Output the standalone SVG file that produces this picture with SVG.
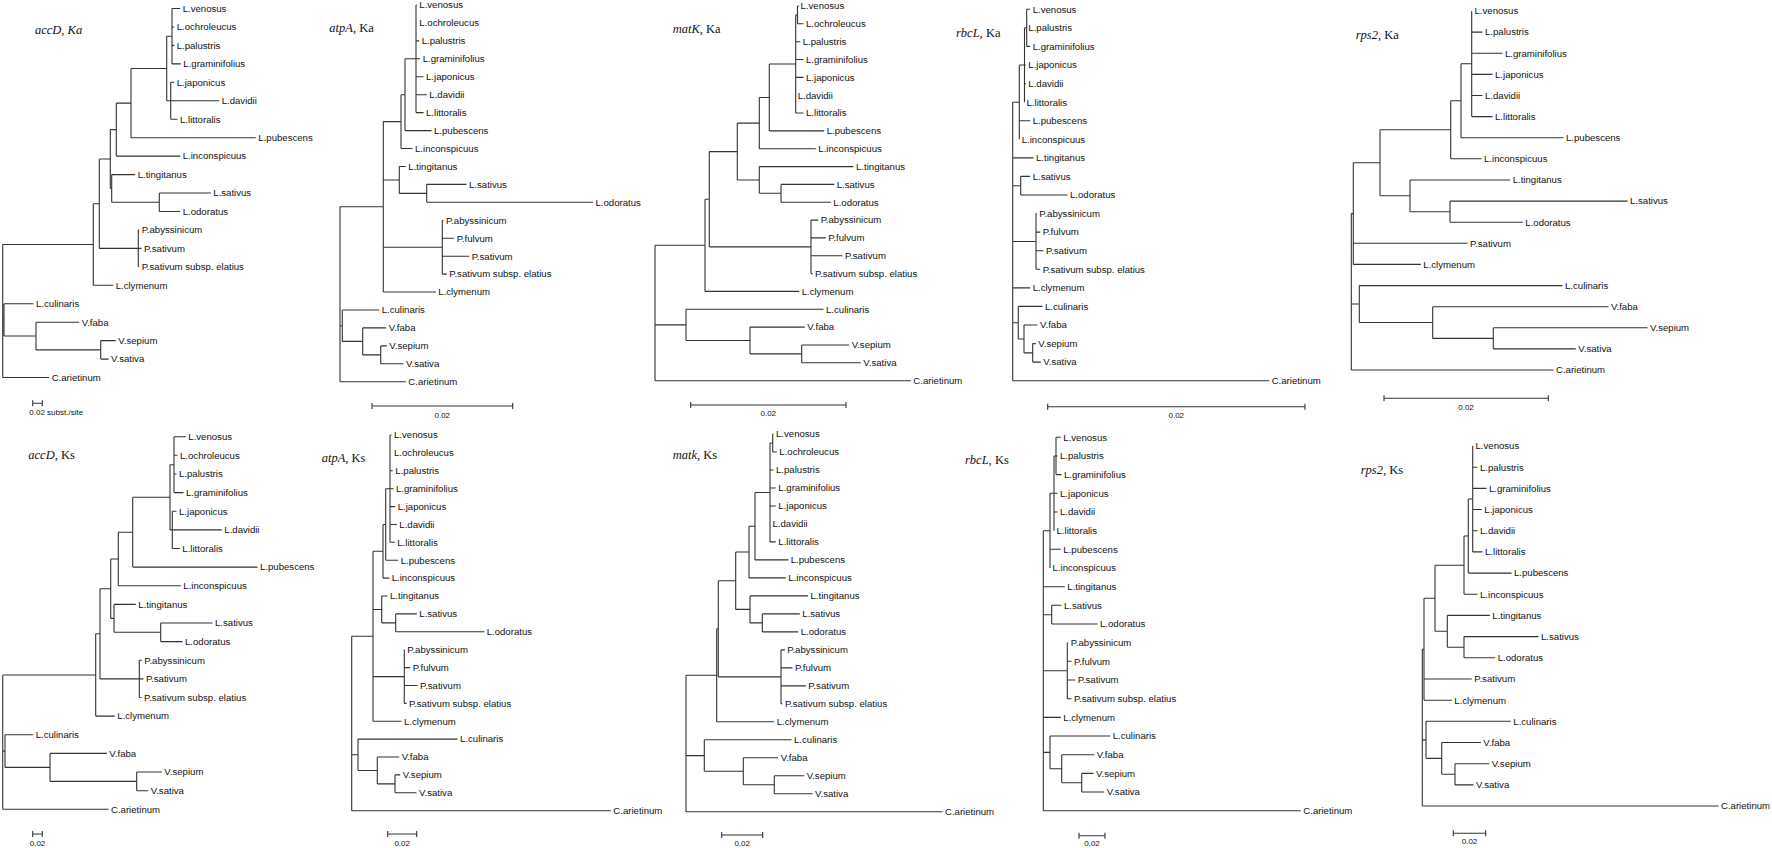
<svg xmlns="http://www.w3.org/2000/svg" width="1772" height="848" viewBox="0 0 1772 848">
<style>
.br{fill:none;stroke:#333;stroke-width:1.1}
.lb{font-family:"Liberation Sans",Arial,sans-serif;font-size:9.6px;fill:#111}
.sc{font-family:"Liberation Sans",Arial,sans-serif;font-size:8px;fill:#111}
.tt{font-family:"Liberation Serif","Times New Roman",serif;font-size:12.5px;fill:#111}
.it{font-style:italic}
</style>
<rect width="1772" height="848" fill="#fff"/>
<g id="connectors">
<path id="br-accD-Ka" class="br" d="M172 8.5V63.9M172 8.5H180.2M172 27H174.2M172 45.4H174.2M172 63.9H180.8M170.7 82.3V119.2M170.7 82.3H174.2M170.7 100.8H219.2M170.7 119.2H177.5M166.7 36.2V100.8M166.7 36.2H172M166.7 100.8H170.7M131 68.5V137.7M131 68.5H166.7M131 137.7H255.8M116.3 103.1V156.1M116.3 103.1H131M116.3 156.1H180.2M159.3 193V211.5M159.3 193H210.8M159.3 211.5H180.2M111.7 174.6V202.3M111.7 174.6H135.2M111.7 202.3H159.3M110.3 129.6V188.5M110.3 129.6H116.3M110.3 188.5H111.7M138.3 229.9V266.8M138.3 229.9H139.2M138.3 248.4H141.5M138.3 266.8H139.2M99.3 159V248.4M99.3 159H110.3M99.3 248.4H138.3M93.3 203.7V285.3M93.3 203.7H99.3M93.3 285.3H113.2M100.7 340.6V359.1M100.7 340.6H115.8M100.7 359.1H108.5M36 322.2V349.9M36 322.2H79.2M36 349.9H100.7M4 303.7V336M4 303.7H33.5M4 336H36M2.7 244.5V377.5M2.7 244.5H93.3M2.7 319.9H4M2.7 377.5H49.2"/>
<path id="br-accD-Ks" class="br" d="M174 436.7V492.6M174 436.7H185.8M174 455.3H177.5M174 474H176.5M174 492.6H183.5M172.3 511.2V548.5M172.3 511.2H176.5M172.3 529.9H221.8M172.3 548.5H179.8M170 464.7V529.9M170 464.7H174M170 529.9H172.3M132.7 497.3V567.1M132.7 497.3H170M132.7 567.1H257.5M118.3 532.2V585.7M118.3 532.2H132.7M118.3 585.7H180.8M160.7 623V641.6M160.7 623H212.5M160.7 641.6H182.5M114 604.4V632.3M114 604.4H135.8M114 632.3H160.7M110.7 559V618.4M110.7 559H118.3M110.7 618.4H114M139.3 660.3V697.5M139.3 660.3H141.8M139.3 678.9H143.5M139.3 697.5H141.5M100 588.7V678.9M100 588.7H110.7M100 678.9H139.3M95.7 633.8V716.1M95.7 633.8H100M95.7 716.1H114.8M136.7 772V790.7M136.7 772H161.8M136.7 790.7H148.2M50 753.4V781.4M50 753.4H106.8M50 781.4H136.7M5 734.8V767.4M5 734.8H33.2M5 767.4H50M2.7 675V809.3M2.7 675H95.7M2.7 751.1H5M2.7 809.3H108.5"/>
<path id="br-atpA-Ka" class="br" d="M416 5V112.6M416 5H416.8M416 40.9H419.2M416 58.8H420.2M416 76.8H423.5M416 94.7H426.8M416 112.6H423.5M405 58.8V130.6M405 58.8H416M405 130.6H431.5M401 94.7V148.5M401 94.7H405M401 148.5H412.5M426.7 184.4V202.3M426.7 184.4H466.5M426.7 202.3H593M399.3 166.5V193.4M399.3 166.5H405.8M399.3 193.4H426.7M442.3 220.3V274.1M442.3 220.3H443.5M442.3 238.2H454.2M442.3 256.2H469.2M442.3 274.1H446.8M383.3 121.6V292M383.3 121.6H401M383.3 180H399.3M383.3 247.2H442.3M383.3 292H435.8M380.7 345.9V363.8M380.7 345.9H386.8M380.7 363.8H403.5M362.7 327.9V354.9M362.7 327.9H386.2M362.7 354.9H380.7M342.3 310V341.4M342.3 310H379.2M342.3 341.4H362.7M340 206.8V381.7M340 206.8H383.3M340 325.7H342.3M340 381.7H405.8"/>
<path id="br-atpA-Ks" class="br" d="M390 435V542.3M390 435H391.5M390 470.8H392.8M390 488.7H393.5M390 506.6H395.2M390 524.5H396.8M390 542.3H394.8M385.7 488.7V560.2M385.7 488.7H390M385.7 560.2H398.2M383 524.5V578.1M383 524.5H385.7M383 578.1H389.2M395.7 613.9V631.8M395.7 613.9H416.8M395.7 631.8H484.2M381.7 596V622.9M381.7 596H387.5M381.7 622.9H395.7M404.3 649.7V703.4M404.3 649.7H404.8M404.3 667.6H410.2M404.3 685.5H417.5M404.3 703.4H406.5M373 551.3V721.2M373 551.3H383M373 609.5H381.7M373 676.6H404.3M373 721.2H401.5M395 774.9V792.8M395 774.9H400.2M395 792.8H416.5M377.3 757V783.9M377.3 757H399.2M377.3 783.9H395M358 739.1V770.5M358 739.1H457.5M358 770.5H377.3M351.7 636.3V810.7M351.7 636.3H373M351.7 754.8H358M351.7 810.7H610.8"/>
<path id="br-matK-Ka" class="br" d="M797.5 6V23.8M797.5 6H799M797.5 23.8H803.5M795.7 14.9V113M795.7 14.9H797.5M795.7 41.7H800.2M795.7 59.5H803.5M795.7 77.4H803.5M795.7 113H803.5M769.3 64V130.9M769.3 64H795.7M769.3 130.9H824.2M759.3 97.5V148.7M759.3 97.5H769.3M759.3 148.7H815.8M781 184.4V202.2M781 184.4H834.2M781 202.2H830.8M759.3 166.6V193.3M759.3 166.6H853.5M759.3 193.3H781M737.3 123.1V180M737.3 123.1H759.3M737.3 180H759.3M811 220.1V273.6M811 220.1H818.2M811 237.9H825.8M811 255.8H842.5M811 273.6H812.5M709.3 151.6V246.9M709.3 151.6H737.3M709.3 246.9H811M705 199.2V291.4M705 199.2H709.3M705 291.4H799.2M801.7 345V362.8M801.7 345H849.2M801.7 362.8H860.8M750 327.1V353.9M750 327.1H804.8M750 353.9H801.7M686 309.3V340.5M686 309.3H823.5M686 340.5H750M655 245.3V380.7M655 245.3H705M655 324.9H686M655 380.7H910.8"/>
<path id="br-matK-Ks" class="br" d="M772.7 434V452M772.7 434H773.5M772.7 452H776.8M770 443V541.9M770 443H772.7M770 470H773.5M770 488H775.8M770 506H775.8M770 541.9H775.8M755 492.5V559.9M755 492.5H770M755 559.9H788.2M749 526.2V577.9M749 526.2H755M749 577.9H785.8M762.3 613.9V631.9M762.3 613.9H799.8M762.3 631.9H798.2M750 595.9V622.9M750 595.9H808M750 622.9H762.3M735.7 552V609.4M735.7 552H749M735.7 609.4H750M781 649.9V703.8M781 649.9H784.8M781 667.9H792.5M781 685.9H805.8M781 703.8H782.5M718.3 580.7V676.9M718.3 580.7H735.7M718.3 676.9H781M716.7 628.8V721.8M716.7 628.8H718.3M716.7 721.8H774.2M774.3 775.8V793.8M774.3 775.8H804.2M774.3 793.8H812.5M743.3 757.8V784.8M743.3 757.8H778.2M743.3 784.8H774.3M704.3 739.8V771.3M704.3 739.8H791.5M704.3 771.3H743.3M686 675.3V811.7M686 675.3H716.7M686 755.6H704.3M686 811.7H942.5"/>
<path id="br-rbcL-Ka" class="br" d="M1026.7 9.3V46.4M1026.7 9.3H1030.2M1026.7 46.4H1030.2M1024.5 27.9V102.2M1024.5 27.9H1026.7M1024.5 65H1025.8M1024.5 83.6H1025.8M1019.3 65V139.3M1019.3 65H1024.5M1019.3 120.7H1030.2M1020.7 176.4V195M1020.7 176.4H1030.2M1020.7 195H1067.5M1036 213.6V269.3M1036 213.6H1036.8M1036 232.1H1040.2M1036 250.7H1043.5M1036 269.3H1040.2M1032.7 343.6V362.1M1032.7 343.6H1035.8M1032.7 362.1H1040.8M1024 325V352.9M1024 325H1037.5M1024 352.9H1032.7M1018.3 306.4V339M1018.3 306.4H1042.5M1018.3 339H1024M1012.7 102.2V380.7M1012.7 102.2H1019.3M1012.7 157.9H1033.5M1012.7 185.7H1020.7M1012.7 241.5H1036M1012.7 287.9H1030.2M1012.7 322.7H1018.3M1012.7 380.7H1269.2"/>
<path id="br-rbcL-Ks" class="br" d="M1056 437.3V474.6M1056 437.3H1060.8M1056 456H1057.5M1056 474.6H1061.5M1054 456V530.7M1054 456H1056M1054 493.3H1057.5M1054 512H1057.5M1050 493.3V568M1050 493.3H1054M1050 549.3H1060.8M1051.7 605.3V624M1051.7 605.3H1061.5M1051.7 624H1097.5M1067.3 642.7V698.7M1067.3 642.7H1068.2M1067.3 661.3H1071.5M1067.3 680H1075.2M1067.3 698.7H1071.5M1081.7 773.4V792M1081.7 773.4H1093.5M1081.7 792H1104.2M1061.7 754.7V782.7M1061.7 754.7H1094.2M1061.7 782.7H1081.7M1050 736V768.7M1050 736H1110.2M1050 768.7H1061.7M1043.3 530.7V810.7M1043.3 530.7H1050M1043.3 586.7H1064.8M1043.3 614.7H1051.7M1043.3 670.7H1067.3M1043.3 717.4H1060.8M1043.3 752.4H1050M1043.3 810.7H1300.8"/>
<path id="br-rps2-Ka" class="br" d="M1471.7 11V116.6M1471.7 32.1H1482.5M1471.7 53.2H1502.5M1471.7 74.4H1492.5M1471.7 95.5H1482.5M1471.7 116.6H1492.5M1461 63.8V137.7M1461 63.8H1471.7M1461 137.7H1563.5M1450.7 100.8V158.8M1450.7 100.8H1461M1450.7 158.8H1481.5M1450 201.1V222.2M1450 201.1H1627.5M1450 222.2H1522.8M1410 180V211.7M1410 180H1510.2M1410 211.7H1450M1380 129.8V195.8M1380 129.8H1450.7M1380 195.8H1410M1353.3 162.8V264.4M1353.3 162.8H1380M1353.3 243.3H1467.5M1353.3 264.4H1420.8M1493.3 327.8V348.9M1493.3 327.8H1647.5M1493.3 348.9H1575.8M1432.7 306.7V338.4M1432.7 306.7H1608.5M1432.7 338.4H1493.3M1359.3 285.6V322.5M1359.3 285.6H1562.5M1359.3 322.5H1432.7M1351.3 213.6V370M1351.3 213.6H1353.3M1351.3 304H1359.3M1351.3 370H1553.5"/>
<path id="br-rps2-Ks" class="br" d="M1472.7 446V551.9M1472.7 467.2H1477.5M1472.7 488.4H1486.5M1472.7 509.5H1481.8M1472.7 530.7H1477.5M1472.7 551.9H1482.5M1468.3 499V573.1M1468.3 499H1472.7M1468.3 573.1H1511.5M1464 536V594.3M1464 536H1468.3M1464 594.3H1477.5M1464 636.6V657.8M1464 636.6H1538.5M1464 657.8H1495.2M1447.3 615.4V647.2M1447.3 615.4H1489.8M1447.3 647.2H1464M1435 565.2V631.3M1435 565.2H1464M1435 631.3H1447.3M1424 598.3V700.2M1424 598.3H1435M1424 679H1471.8M1424 700.2H1451.8M1455 763.7V784.9M1455 763.7H1489.2M1455 784.9H1473.5M1441.7 742.5V774.3M1441.7 742.5H1480.8M1441.7 774.3H1455M1426 721.3V758.4M1426 721.3H1510.8M1426 758.4H1441.7M1422.3 649.3V806M1422.3 649.3H1424M1422.3 739.9H1426M1422.3 806H1718.5"/>
<path id="scale-bars" class="br" d="M32.7 403.3H42.3M32.7 400.3V406.3M42.3 400.3V406.3M372 406H512.7M372 403V409M512.7 403V409M690.7 405H846M690.7 402V408M846 402V408M1047.7 406.7H1305M1047.7 403.7V409.7M1305 403.7V409.7M1384 398.3H1548.3M1384 395.3V401.3M1548.3 395.3V401.3M32.7 834H42.3M32.7 831V837M42.3 831V837M387.7 834H416.7M387.7 831V837M416.7 831V837M721.7 835H762.7M721.7 832V838M762.7 832V838M1079 835.7H1105M1079 832.7V838.7M1105 832.7V838.7M1453.3 833.3H1485.7M1453.3 830.3V836.3M1485.7 830.3V836.3"/>
</g>
<g id="scale-labels" class="sc">
<text x="29.3" y="415">0.02 subst./site</text>
<text x="442.3" y="418" text-anchor="middle">0.02</text>
<text x="768.3" y="416" text-anchor="middle">0.02</text>
<text x="1176.3" y="418" text-anchor="middle">0.02</text>
<text x="1466" y="409.5" text-anchor="middle">0.02</text>
<text x="37.5" y="846" text-anchor="middle">0.02</text>
<text x="402.2" y="846" text-anchor="middle">0.02</text>
<text x="742.2" y="846" text-anchor="middle">0.02</text>
<text x="1092" y="846" text-anchor="middle">0.02</text>
<text x="1469.5" y="844" text-anchor="middle">0.02</text>
</g>
<g id="tree-accD-Ka">
<text class="tt it" x="35" y="34">accD, Ka</text>
<g class="lb" transform="translate(0 3.4)">
<text x="182.7" y="8.5">L.venosus</text>
<text x="176.7" y="27">L.ochroleucus</text>
<text x="176.7" y="45.4">L.palustris</text>
<text x="183.3" y="63.9">L.graminifolius</text>
<text x="176.7" y="82.3">L.japonicus</text>
<text x="221.7" y="100.8">L.davidii</text>
<text x="180" y="119.2">L.littoralis</text>
<text x="258.3" y="137.7">L.pubescens</text>
<text x="182.7" y="156.1">L.inconspicuus</text>
<text x="137.7" y="174.6">L.tingitanus</text>
<text x="213.3" y="193">L.sativus</text>
<text x="182.7" y="211.5">L.odoratus</text>
<text x="141.7" y="229.9">P.abyssinicum</text>
<text x="144" y="248.4">P.sativum</text>
<text x="141.7" y="266.8">P.sativum subsp. elatius</text>
<text x="115.7" y="285.3">L.clymenum</text>
<text x="36" y="303.7">L.culinaris</text>
<text x="81.7" y="322.2">V.faba</text>
<text x="118.3" y="340.6">V.sepium</text>
<text x="111" y="359.1">V.sativa</text>
<text x="51.7" y="377.5">C.arietinum</text>
</g>
</g>
<g id="tree-accD-Ks">
<text class="tt" x="28.3" y="459"><tspan class="it">accD,</tspan> Ks</text>
<g class="lb" transform="translate(0 3.4)">
<text x="188.3" y="436.7">L.venosus</text>
<text x="180" y="455.3">L.ochroleucus</text>
<text x="179" y="474">L.palustris</text>
<text x="186" y="492.6">L.graminifolius</text>
<text x="179" y="511.2">L.japonicus</text>
<text x="224.3" y="529.9">L.davidii</text>
<text x="182.3" y="548.5">L.littoralis</text>
<text x="260" y="567.1">L.pubescens</text>
<text x="183.3" y="585.7">L.inconspicuus</text>
<text x="138.3" y="604.4">L.tingitanus</text>
<text x="215" y="623">L.sativus</text>
<text x="185" y="641.6">L.odoratus</text>
<text x="144.3" y="660.3">P.abyssinicum</text>
<text x="146" y="678.9">P.sativum</text>
<text x="144" y="697.5">P.sativum subsp. elatius</text>
<text x="117.3" y="716.1">L.clymenum</text>
<text x="35.7" y="734.8">L.culinaris</text>
<text x="109.3" y="753.4">V.faba</text>
<text x="164.3" y="772">V.sepium</text>
<text x="150.7" y="790.7">V.sativa</text>
<text x="111" y="809.3">C.arietinum</text>
</g>
</g>
<g id="tree-atpA-Ka">
<text class="tt" x="329.3" y="32"><tspan class="it">atpA,</tspan> Ka</text>
<g class="lb" transform="translate(0 3.4)">
<text x="419.3" y="5">L.venosus</text>
<text x="419.3" y="22.9">L.ochroleucus</text>
<text x="421.7" y="40.9">L.palustris</text>
<text x="422.7" y="58.8">L.graminifolius</text>
<text x="426" y="76.8">L.japonicus</text>
<text x="429.3" y="94.7">L.davidii</text>
<text x="426" y="112.6">L.littoralis</text>
<text x="434" y="130.6">L.pubescens</text>
<text x="415" y="148.5">L.inconspicuus</text>
<text x="408.3" y="166.5">L.tingitanus</text>
<text x="469" y="184.4">L.sativus</text>
<text x="595.5" y="202.3">L.odoratus</text>
<text x="446" y="220.3">P.abyssinicum</text>
<text x="456.7" y="238.2">P.fulvum</text>
<text x="471.7" y="256.2">P.sativum</text>
<text x="449.3" y="274.1">P.sativum subsp. elatius</text>
<text x="438.3" y="292">L.clymenum</text>
<text x="381.7" y="310">L.culinaris</text>
<text x="388.7" y="327.9">V.faba</text>
<text x="389.3" y="345.9">V.sepium</text>
<text x="406" y="363.8">V.sativa</text>
<text x="408.3" y="381.7">C.arietinum</text>
</g>
</g>
<g id="tree-atpA-Ks">
<text class="tt" x="321.7" y="462"><tspan class="it">atpA,</tspan> Ks</text>
<g class="lb" transform="translate(0 3.4)">
<text x="394" y="435">L.venosus</text>
<text x="394" y="452.9">L.ochroleucus</text>
<text x="395.3" y="470.8">L.palustris</text>
<text x="396" y="488.7">L.graminifolius</text>
<text x="397.7" y="506.6">L.japonicus</text>
<text x="399.3" y="524.5">L.davidii</text>
<text x="397.3" y="542.3">L.littoralis</text>
<text x="400.7" y="560.2">L.pubescens</text>
<text x="391.7" y="578.1">L.inconspicuus</text>
<text x="390" y="596">L.tingitanus</text>
<text x="419.3" y="613.9">L.sativus</text>
<text x="486.7" y="631.8">L.odoratus</text>
<text x="407.3" y="649.7">P.abyssinicum</text>
<text x="412.7" y="667.6">P.fulvum</text>
<text x="420" y="685.5">P.sativum</text>
<text x="409" y="703.4">P.sativum subsp. elatius</text>
<text x="404" y="721.2">L.clymenum</text>
<text x="460" y="739.1">L.culinaris</text>
<text x="401.7" y="757">V.faba</text>
<text x="402.7" y="774.9">V.sepium</text>
<text x="419" y="792.8">V.sativa</text>
<text x="613.3" y="810.7">C.arietinum</text>
</g>
</g>
<g id="tree-matK-Ka">
<text class="tt" x="672.7" y="33"><tspan class="it">matK,</tspan> Ka</text>
<g class="lb" transform="translate(0 3.4)">
<text x="800.5" y="6">L.venosus</text>
<text x="806" y="23.8">L.ochroleucus</text>
<text x="802.7" y="41.7">L.palustris</text>
<text x="806" y="59.5">L.graminifolius</text>
<text x="806" y="77.4">L.japonicus</text>
<text x="797.7" y="95.2">L.davidii</text>
<text x="806" y="113">L.littoralis</text>
<text x="826.7" y="130.9">L.pubescens</text>
<text x="818.3" y="148.7">L.inconspicuus</text>
<text x="856" y="166.6">L.tingitanus</text>
<text x="836.7" y="184.4">L.sativus</text>
<text x="833.3" y="202.2">L.odoratus</text>
<text x="820.7" y="220.1">P.abyssinicum</text>
<text x="828.3" y="237.9">P.fulvum</text>
<text x="845" y="255.8">P.sativum</text>
<text x="815" y="273.6">P.sativum subsp. elatius</text>
<text x="801.7" y="291.4">L.clymenum</text>
<text x="826" y="309.3">L.culinaris</text>
<text x="807.3" y="327.1">V.faba</text>
<text x="851.7" y="345">V.sepium</text>
<text x="863.3" y="362.8">V.sativa</text>
<text x="913.3" y="380.7">C.arietinum</text>
</g>
</g>
<g id="tree-matK-Ks">
<text class="tt" x="672.7" y="459"><tspan class="it">matk,</tspan> Ks</text>
<g class="lb" transform="translate(0 3.4)">
<text x="776" y="434">L.venosus</text>
<text x="779.3" y="452">L.ochroleucus</text>
<text x="776" y="470">L.palustris</text>
<text x="778.3" y="488">L.graminifolius</text>
<text x="778.3" y="506">L.japonicus</text>
<text x="772.5" y="523.9">L.davidii</text>
<text x="778.3" y="541.9">L.littoralis</text>
<text x="790.7" y="559.9">L.pubescens</text>
<text x="788.3" y="577.9">L.inconspicuus</text>
<text x="810.5" y="595.9">L.tingitanus</text>
<text x="802.3" y="613.9">L.sativus</text>
<text x="800.7" y="631.9">L.odoratus</text>
<text x="787.3" y="649.9">P.abyssinicum</text>
<text x="795" y="667.9">P.fulvum</text>
<text x="808.3" y="685.9">P.sativum</text>
<text x="785" y="703.8">P.sativum subsp. elatius</text>
<text x="776.7" y="721.8">L.clymenum</text>
<text x="794" y="739.8">L.culinaris</text>
<text x="780.7" y="757.8">V.faba</text>
<text x="806.7" y="775.8">V.sepium</text>
<text x="815" y="793.8">V.sativa</text>
<text x="945" y="811.7">C.arietinum</text>
</g>
</g>
<g id="tree-rbcL-Ka">
<text class="tt" x="956" y="37"><tspan class="it">rbcL,</tspan> Ka</text>
<g class="lb" transform="translate(0 3.4)">
<text x="1032.7" y="9.3">L.venosus</text>
<text x="1028.3" y="27.9">L.palustris</text>
<text x="1032.7" y="46.4">L.graminifolius</text>
<text x="1028.3" y="65">L.japonicus</text>
<text x="1028.3" y="83.6">L.davidii</text>
<text x="1026.5" y="102.2">L.littoralis</text>
<text x="1032.7" y="120.7">L.pubescens</text>
<text x="1021.7" y="139.3">L.inconspicuus</text>
<text x="1036" y="157.9">L.tingitanus</text>
<text x="1032.7" y="176.4">L.sativus</text>
<text x="1070" y="195">L.odoratus</text>
<text x="1039.3" y="213.6">P.abyssinicum</text>
<text x="1042.7" y="232.1">P.fulvum</text>
<text x="1046" y="250.7">P.sativum</text>
<text x="1042.7" y="269.3">P.sativum subsp. elatius</text>
<text x="1032.7" y="287.9">L.clymenum</text>
<text x="1045" y="306.4">L.culinaris</text>
<text x="1040" y="325">V.faba</text>
<text x="1038.3" y="343.6">V.sepium</text>
<text x="1043.3" y="362.1">V.sativa</text>
<text x="1271.7" y="380.7">C.arietinum</text>
</g>
</g>
<g id="tree-rbcL-Ks">
<text class="tt" x="965" y="464"><tspan class="it">rbcL,</tspan> Ks</text>
<g class="lb" transform="translate(0 3.4)">
<text x="1063.3" y="437.3">L.venosus</text>
<text x="1060" y="456">L.palustris</text>
<text x="1064" y="474.6">L.graminifolius</text>
<text x="1060" y="493.3">L.japonicus</text>
<text x="1060" y="512">L.davidii</text>
<text x="1056.5" y="530.7">L.littoralis</text>
<text x="1063.3" y="549.3">L.pubescens</text>
<text x="1052.5" y="568">L.inconspicuus</text>
<text x="1067.3" y="586.7">L.tingitanus</text>
<text x="1064" y="605.3">L.sativus</text>
<text x="1100" y="624">L.odoratus</text>
<text x="1070.7" y="642.7">P.abyssinicum</text>
<text x="1074" y="661.3">P.fulvum</text>
<text x="1077.7" y="680">P.sativum</text>
<text x="1074" y="698.7">P.sativum subsp. elatius</text>
<text x="1063.3" y="717.4">L.clymenum</text>
<text x="1112.7" y="736">L.culinaris</text>
<text x="1096.7" y="754.7">V.faba</text>
<text x="1096" y="773.4">V.sepium</text>
<text x="1106.7" y="792">V.sativa</text>
<text x="1303.3" y="810.7">C.arietinum</text>
</g>
</g>
<g id="tree-rps2-Ka">
<text class="tt" x="1355.7" y="39"><tspan class="it">rps2,</tspan> Ka</text>
<g class="lb" transform="translate(0 3.4)">
<text x="1474.5" y="11">L.venosus</text>
<text x="1485" y="32.1">L.palustris</text>
<text x="1505" y="53.2">L.graminifolius</text>
<text x="1495" y="74.4">L.japonicus</text>
<text x="1485" y="95.5">L.davidii</text>
<text x="1495" y="116.6">L.littoralis</text>
<text x="1566" y="137.7">L.pubescens</text>
<text x="1484" y="158.8">L.inconspicuus</text>
<text x="1512.7" y="180">L.tingitanus</text>
<text x="1630" y="201.1">L.sativus</text>
<text x="1525.3" y="222.2">L.odoratus</text>
<text x="1470" y="243.3">P.sativum</text>
<text x="1423.3" y="264.4">L.clymenum</text>
<text x="1565" y="285.6">L.culinaris</text>
<text x="1611" y="306.7">V.faba</text>
<text x="1650" y="327.8">V.sepium</text>
<text x="1578.3" y="348.9">V.sativa</text>
<text x="1556" y="370">C.arietinum</text>
</g>
</g>
<g id="tree-rps2-Ks">
<text class="tt" x="1360.7" y="474"><tspan class="it">rps2,</tspan> Ks</text>
<g class="lb" transform="translate(0 3.4)">
<text x="1475.5" y="446">L.venosus</text>
<text x="1480" y="467.2">L.palustris</text>
<text x="1489" y="488.4">L.graminifolius</text>
<text x="1484.3" y="509.5">L.japonicus</text>
<text x="1480" y="530.7">L.davidii</text>
<text x="1485" y="551.9">L.littoralis</text>
<text x="1514" y="573.1">L.pubescens</text>
<text x="1480" y="594.3">L.inconspicuus</text>
<text x="1492.3" y="615.4">L.tingitanus</text>
<text x="1541" y="636.6">L.sativus</text>
<text x="1497.7" y="657.8">L.odoratus</text>
<text x="1474.3" y="679">P.sativum</text>
<text x="1454.3" y="700.2">L.clymenum</text>
<text x="1513.3" y="721.3">L.culinaris</text>
<text x="1483.3" y="742.5">V.faba</text>
<text x="1491.7" y="763.7">V.sepium</text>
<text x="1476" y="784.9">V.sativa</text>
<text x="1721" y="806">C.arietinum</text>
</g>
</g>
</svg>
